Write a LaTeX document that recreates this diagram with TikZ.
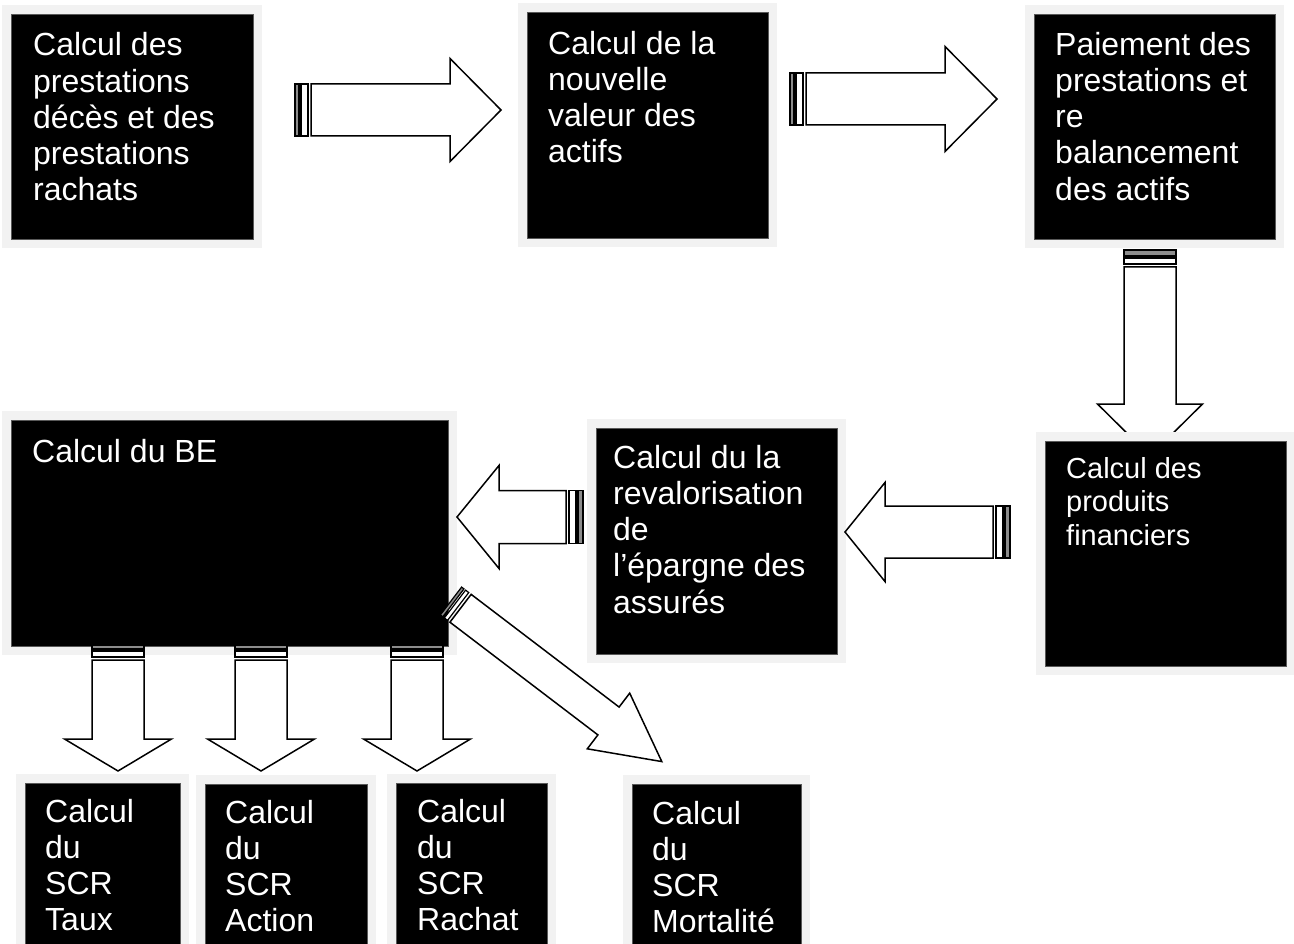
\documentclass[tikz,border=0pt]{standalone}
\usepackage{fontspec}
\setmainfont{Liberation Sans}
\tikzset{
  box/.style={fill=black, draw=black!65, line width=0.8pt, preaction={draw=black!5, line width=18pt}, inner sep=0pt, anchor=north west},
  txt/.style={text=white, align=left, inner sep=0pt, anchor=north west, font=\fontsize{32}{36.2}\selectfont},
  txtsmall/.style={txt, font=\fontsize{29}{33.4}\selectfont},
  stripeA/.style={draw=black, fill=black!45, line width=1.2pt},
  stripeB/.style={draw=black, fill=white, line width=1.2pt},
  arrbody/.style={draw=black, fill=white, line width=1.5pt, line join=miter},
}
% #1,#2 tail position, #3 angle, #4 length, #5 body width, #6 head width, #7 head length, #8 stripe A, #9 stripe B
\newcommand\BArrow[9]{%
  \begin{scope}[shift={(#1,#2)},rotate=#3]
    \draw[stripeA] (0,-#5/2) rectangle (#8,#5/2);
    \draw[stripeB] (#8+2,-#5/2) rectangle (#8+2+#9,#5/2);
    \draw[arrbody] (#8+#9+5,-#5/2) -- (#4-#7,-#5/2) -- (#4-#7,-#6/2) -- (#4,0)
      -- (#4-#7,#6/2) -- (#4-#7,#5/2) -- (#8+#9+5,#5/2) -- cycle;
  \end{scope}}
\begin{document}
\begin{tikzpicture}[x=1pt,y=-1pt]
\useasboundingbox (0,0) rectangle (1294,944);
\fill[white] (0,0) rectangle (1294,944);
% boxes
\node[box, minimum width=242pt, minimum height=225pt] (b1) at (11,14) {};
\node[box, minimum width=241pt, minimum height=226pt] (b2) at (527,12) {};
\node[box, minimum width=241pt, minimum height=225pt] (b3) at (1034,14) {};
\node[box, minimum width=437pt, minimum height=226pt] (be) at (11,420) {};
\node[box, minimum width=241pt, minimum height=226pt] (rev) at (596,428) {};
\node[box, minimum width=155pt, minimum height=175pt] (taux) at (25,783) {};
\node[box, minimum width=162pt, minimum height=175pt] (action) at (205,784) {};
\node[box, minimum width=151pt, minimum height=175pt] (rachat) at (396,783) {};
\node[box, minimum width=169pt, minimum height=175pt] (mort) at (632,784) {};
% arrows
\BArrow{295}{110}{0}{206}{52}{103}{51}{4}{7}
\BArrow{790}{99}{0}{207}{52}{105}{52}{4}{7}
\BArrow{1150}{250}{-90}{206}{52}{105}{52}{6}{6}
\BArrow{1010}{532}{180}{165}{52}{99}{40}{5}{7}
\BArrow{583}{517}{180}{126}{53}{103}{42}{5}{7}
\BArrow{118}{645}{-90}{126}{52}{107}{32}{4}{6}
\BArrow{261}{645}{-90}{126}{52}{107}{32}{4}{6}
\BArrow{417}{645}{-90}{126}{52}{107}{32}{4}{6}
\BArrow{451}{601}{-37.3}{265}{35}{70}{67}{3}{4}
\node[box, minimum width=241pt, minimum height=225pt] (fin) at (1045,441) {};
% texts
\node[txt] (t1) at (33,32.5) {Calcul des\\prestations\\décès et des\\prestations\\rachats};
\node[txt] (t2) at (548,31) {Calcul de la\\nouvelle\\valeur des\\actifs};
\node[txt] (t3) at (1055,32) {Paiement des\\prestations et\\re\\balancement\\des actifs};
\node[txt] (tbe) at (32,439) {Calcul du BE};
\node[txt] (trev) at (613,445) {Calcul du la\\revalorisation\\de\\l’épargne des\\assurés};
\node[txtsmall] (tfin) at (1066,457) {Calcul des\\produits\\financiers};
\node[txt] (ttaux) at (45,799) {Calcul\\du\\SCR\\Taux};
\node[txt] (taction) at (225,800) {Calcul\\du\\SCR\\Action};
\node[txt] (trachat) at (417,799) {Calcul\\du\\SCR\\Rachat};
\node[txt] (tmort) at (652,801) {Calcul\\du\\SCR\\Mortalité};
\end{tikzpicture}
\end{document}
